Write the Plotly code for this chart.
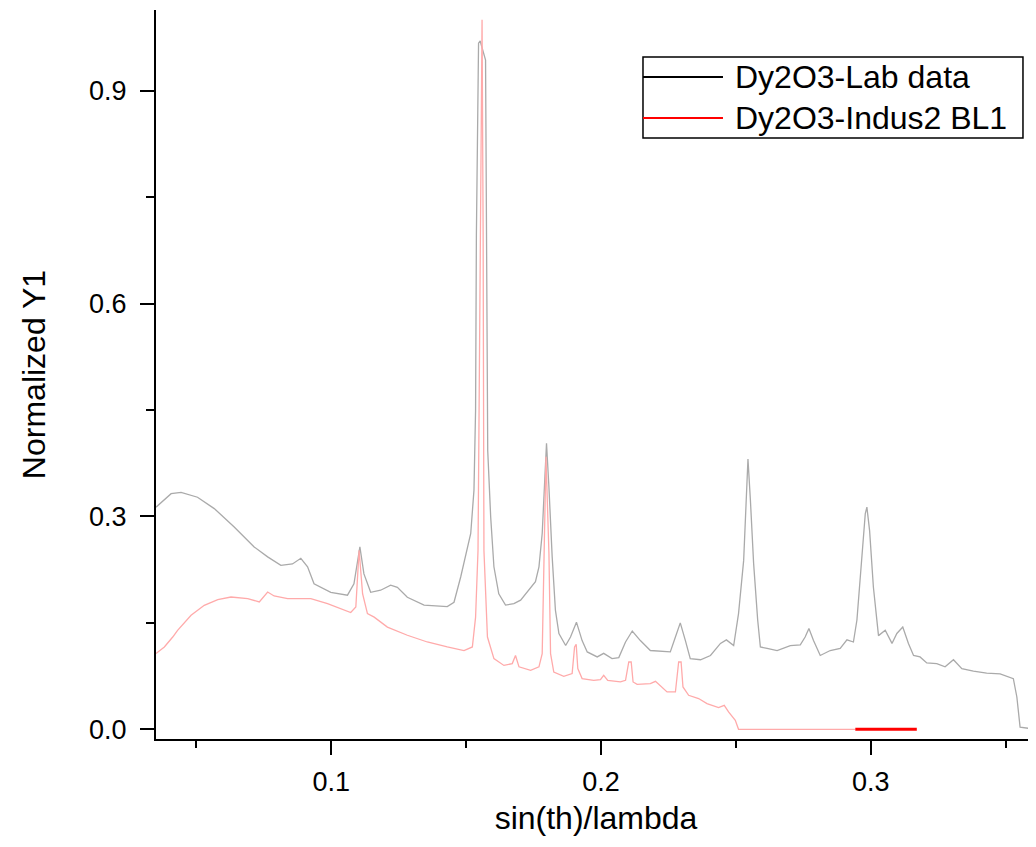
import plotly.graph_objects as go

# ---- Data ----
lab_x = [0.0350, 0.0406, 0.0443, 0.0504, 0.0566, 0.0640, 0.0714, 0.0764, 0.0813, 0.0856,
         0.0887, 0.0912, 0.0936, 0.0998, 0.1060, 0.1084, 0.1106, 0.1121, 0.1146, 0.1183,
         0.1220, 0.1245, 0.1282, 0.1344, 0.1430, 0.1455, 0.1480, 0.1517, 0.1529, 0.1535,
         0.1538, 0.1546, 0.1552, 0.1560, 0.1572, 0.1576, 0.1580, 0.1591, 0.1603, 0.1621,
         0.1646, 0.1677, 0.1702, 0.1757, 0.1770, 0.1782, 0.1791, 0.1798, 0.1807, 0.1819,
         0.1831, 0.1844, 0.1869, 0.1887, 0.1909, 0.1930, 0.1949, 0.1986, 0.2010, 0.2041,
         0.2066, 0.2091, 0.2116, 0.2146, 0.2183, 0.2233, 0.2257, 0.2276, 0.2294, 0.2313,
         0.2331, 0.2369, 0.2406, 0.2443, 0.2465, 0.2492, 0.2510, 0.2529, 0.2539, 0.2545,
         0.2554, 0.2566, 0.2581, 0.2591, 0.2616, 0.2653, 0.2702, 0.2739, 0.2757, 0.2771,
         0.2788, 0.2813, 0.2850, 0.2887, 0.2912, 0.2936, 0.2949, 0.2967, 0.2980, 0.2986,
         0.2996, 0.3010, 0.3029, 0.3054, 0.3079, 0.3097, 0.3119, 0.3140, 0.3159, 0.3183,
         0.3208, 0.3245, 0.3276, 0.3307, 0.3338, 0.3381, 0.3430, 0.3480, 0.3529, 0.3542,
         0.3554, 0.3591, 0.3613]
lab_y = [0.313, 0.332, 0.334, 0.327, 0.311, 0.285, 0.257, 0.243, 0.231, 0.233,
         0.241, 0.229, 0.205, 0.193, 0.189, 0.205, 0.257, 0.219, 0.193, 0.196,
         0.203, 0.200, 0.186, 0.175, 0.173, 0.179, 0.215, 0.276, 0.337, 0.450,
         0.696, 0.967, 0.970, 0.960, 0.943, 0.668, 0.393, 0.299, 0.229, 0.191,
         0.175, 0.177, 0.182, 0.208, 0.229, 0.276, 0.341, 0.403, 0.341, 0.243,
         0.168, 0.135, 0.118, 0.130, 0.151, 0.125, 0.109, 0.102, 0.107, 0.0996,
         0.101, 0.123, 0.1385, 0.125, 0.111, 0.110, 0.109, 0.130, 0.150, 0.125,
         0.0996, 0.098, 0.104, 0.121, 0.126, 0.118, 0.163, 0.238, 0.318, 0.381,
         0.323, 0.2335, 0.154, 0.116, 0.114, 0.111, 0.118, 0.119, 0.130, 0.142,
         0.125, 0.104, 0.111, 0.114, 0.126, 0.123, 0.154, 0.248, 0.304, 0.313,
         0.280, 0.2005, 0.132, 0.1395, 0.121, 0.135, 0.144, 0.121, 0.104, 0.102,
         0.0935, 0.0926, 0.088, 0.098, 0.0855, 0.082, 0.079, 0.078, 0.0714, 0.0455,
         0.003, 0.001, 0.0]

indus_x = [0.0350, 0.0381, 0.0412, 0.0430, 0.0480, 0.0529, 0.0579, 0.0628, 0.0690, 0.0733,
           0.0764, 0.0788, 0.0838, 0.0924, 0.0986, 0.1035, 0.1072, 0.1091, 0.1103, 0.1116,
           0.1134, 0.1159, 0.1208, 0.1282, 0.1356, 0.1430, 0.1492, 0.1523, 0.1535, 0.1544,
           0.1550, 0.1556, 0.1559, 0.1563, 0.1566, 0.1579, 0.1603, 0.1640, 0.1671, 0.1683,
           0.1696, 0.1739, 0.1770, 0.1782, 0.1796, 0.1807, 0.1813, 0.1825, 0.1862, 0.1893,
           0.1902, 0.1908, 0.1914, 0.1930, 0.1973, 0.1998, 0.2010, 0.2025, 0.2072, 0.2091,
           0.2103, 0.2112, 0.2119, 0.2134, 0.2183, 0.2202, 0.2227, 0.2245, 0.2276, 0.2288,
           0.2297, 0.2304, 0.2325, 0.2362, 0.2393, 0.2436, 0.2457, 0.2473, 0.2498, 0.2510,
           0.2943]
indus_y = [0.1067, 0.116, 0.130, 0.1395, 0.1607, 0.1747, 0.1828, 0.1864, 0.1842, 0.1794,
           0.1935, 0.1879, 0.1842, 0.1842, 0.1771, 0.1701, 0.1645, 0.1724, 0.2523, 0.191,
           0.163, 0.158, 0.144, 0.1325, 0.123, 0.116, 0.111, 0.116, 0.158, 0.252,
           0.600, 0.950, 1.000, 0.700, 0.252, 0.130, 0.0996, 0.090, 0.0926, 0.104,
           0.088, 0.083, 0.088, 0.1067, 0.384, 0.2476, 0.1067, 0.0807, 0.0747, 0.0785,
           0.116, 0.1198, 0.0855, 0.0714, 0.069, 0.070, 0.076, 0.069, 0.0667, 0.069,
           0.0948, 0.0948, 0.0667, 0.0634, 0.0644, 0.0676, 0.0596, 0.0526, 0.0526, 0.0948,
           0.0948, 0.0596, 0.0479, 0.0433, 0.0362, 0.0306, 0.0338, 0.0244, 0.0127, 0.0,
           0.0]

# dense (overdrawn) tail of the Indus2 data at zero
indus_tail_x = [0.2943, 0.3171]
indus_tail_y = [0.0, 0.0]

series_names = ["Dy2O3-Lab data", "Dy2O3-Indus2 BL1"]
legend_colors = ["black", "red"]

x_ticks = [0.1, 0.2, 0.3]
y_ticks = [0.0, 0.3, 0.6, 0.9]

FONT = "Liberation Sans, Arial, Helvetica, sans-serif"

fig = go.Figure()
fig.add_trace(go.Scatter(x=lab_x, y=lab_y, mode="lines", name=series_names[0],
                         line=dict(color="rgb(170,170,170)", width=1.3), showlegend=False))
fig.add_trace(go.Scatter(x=indus_x, y=indus_y, mode="lines", name=series_names[1],
                         line=dict(color="rgb(255,170,170)", width=1.3), showlegend=False))
fig.add_trace(go.Scatter(x=indus_tail_x, y=indus_tail_y, mode="lines", name=series_names[1],
                         line=dict(color="rgb(255,0,0)", width=3), showlegend=False))

# custom legend (box, sample lines, labels) in paper coordinates
lx0, lx1, ly0, ly1 = 0.5534, 0.9852, 0.8244, 0.9355
row_y = [0.9081, 0.8519]
shapes = [dict(type="rect", xref="paper", yref="paper", x0=lx0, x1=lx1, y0=ly0, y1=ly1,
               line=dict(color="black", width=1.5), fillcolor="white", layer="above")]
annotations = []
for name, col, ry in zip(series_names, legend_colors, row_y):
    shapes.append(dict(type="line", xref="paper", yref="paper", x0=lx0, x1=lx0 + 0.0909,
                       y0=ry, y1=ry, line=dict(color=col, width=2), layer="above"))
    annotations.append(dict(xref="paper", yref="paper", x=lx0 + 0.1023, y=ry, text=name,
                            showarrow=False, xanchor="left", yanchor="middle",
                            font=dict(family=FONT, size=32, color="black")))

fig.update_layout(
    width=1036, height=847,
    margin=dict(l=148, r=8, t=2, b=116, autoexpand=False),
    paper_bgcolor="white", plot_bgcolor="white",
    shapes=shapes, annotations=annotations,
    showlegend=False,
)
fig.update_xaxes(
    range=[0.035, 0.3613], showgrid=False, zeroline=False,
    showline=True, linecolor="black", linewidth=2,
    ticks="outside", ticklen=14, tickwidth=2, tickcolor="black",
    tickvals=x_ticks, tickformat=".1f", ticklabelstandoff=4,
    minor=dict(ticks="outside", ticklen=7, tickwidth=2, tickcolor="black", dtick=0.05, tick0=0),
    tickfont=dict(family=FONT, size=27, color="black"),
    title=dict(text="sin(th)/lambda", font=dict(family=FONT, size=32, color="black"), standoff=10),
)
fig.update_yaxes(
    range=[-0.0137, 1.0137], showgrid=False, zeroline=False,
    showline=True, linecolor="black", linewidth=2,
    ticks="outside", ticklen=14, tickwidth=2, tickcolor="black",
    tickvals=y_ticks, tickformat=".1f", ticklabelstandoff=8,
    minor=dict(ticks="outside", ticklen=8, tickwidth=2, tickcolor="black", dtick=0.15, tick0=0),
    tickfont=dict(family=FONT, size=27, color="black"),
    title=dict(text="Normalized Y1", font=dict(family=FONT, size=32, color="black"), standoff=34),
)

fig.write_html("out.html")
